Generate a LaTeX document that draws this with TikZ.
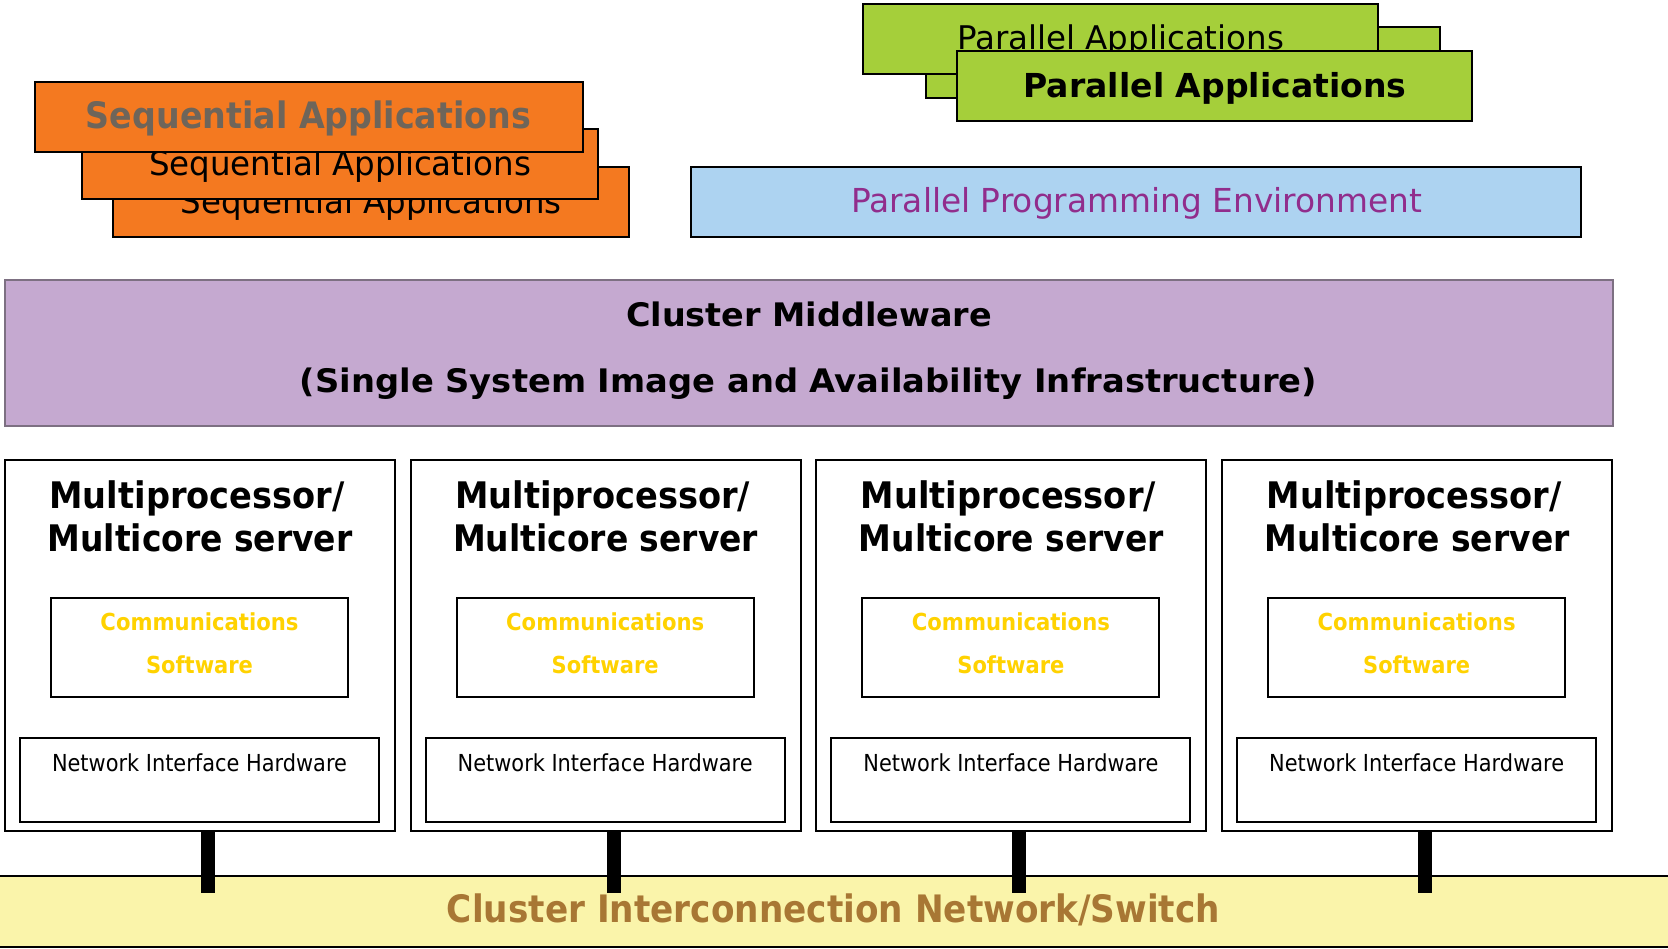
\documentclass[tikz,border=0pt]{standalone}
\usepackage{fontspec}
\setmainfont{DejaVu Sans}
\usetikzlibrary{fit}

\definecolor{seqOrange}{RGB}{244,121,32}
\definecolor{seqGrey}{RGB}{110,101,90}
\definecolor{parGreen}{RGB}{165,207,58}
\definecolor{envBlue}{RGB}{173,211,241}
\definecolor{envPurple}{RGB}{145,45,140}
\definecolor{mwLilac}{RGB}{197,169,208}
\definecolor{mwBorder}{RGB}{125,112,130}
\definecolor{netYellow}{RGB}{250,244,170}
\definecolor{netBrown}{RGB}{168,119,52}
\definecolor{commGold}{RGB}{255,210,0}

% text squeezed horizontally to a given width: #1 width (pt), #2 size (pt), #3 text
\newcommand\fitw[3]{\resizebox{#1pt}{\height}{\fontsize{#2pt}{#2pt}\selectfont #3}}

\tikzset{
  panel/.style={draw=black, line width=1pt, inner sep=0pt, outer sep=0pt},
  label/.style={inner sep=0pt, outer sep=0pt, anchor=base},
  link/.style={draw=black, line width=7pt, line cap=butt},
}

\begin{document}
\begin{tikzpicture}[x=0.5pt, y=-0.5pt]
\useasboundingbox (0,0) rectangle (1668,948);

% ---- stack of sequential applications
\node[panel, fill=seqOrange, fit={(113,167) (629,237)}] (seqC) {};
\node[label] (seqCt) at (371,213) {\fitw{190.5}{16.7}{Sequential Applications}};
\node[panel, fill=seqOrange, fit={(82,129) (598,199)}] (seqB) {};
\node[label] (seqBt) at (340,175) {\fitw{191}{16.7}{Sequential Applications}};
\node[panel, fill=seqOrange, fit={(35,82) (583,152)}] (seqA) {};
\node[label, text=seqGrey] (seqAt) at (308.5,128) {\fitw{222.5}{18.2}{\bfseries Sequential Applications}};

% ---- stack of parallel applications
\node[panel, fill=parGreen, fit={(926,27) (1440,98)}] (parB) {};
\node[panel, fill=parGreen, fit={(863,4) (1378,74)}] (parC) {};
\node[label] (parCt) at (1120.5,49) {\fitw{163.5}{16.3}{Parallel Applications}};
\node[panel, fill=parGreen, fit={(957,51) (1472,121)}] (parA) {};
\node[label] (parAt) at (1215,97) {\fitw{191.5}{16.5}{\bfseries Parallel Applications}};

% ---- programming environment
\node[panel, fill=envBlue, fit={(691,167) (1581,237)}] (env) {};
\node[label, text=envPurple] (envt) at (1136.5,212) {\fitw{285.5}{16.5}{Parallel Programming Environment}};

% ---- middleware
\node[panel, draw=mwBorder, line width=1.2pt, fill=mwLilac, fit={(5,280) (1613,426)}] (mw) {};
\node[label] (mwt1) at (809,326.5) {\fitw{183}{16.2}{\bfseries Cluster Middleware}};
\node[label] (mwt2) at (808.5,392) {\fitw{508.5}{16.2}{\bfseries (Single System Image and Availability Infrastructure)}};

% ---- interconnect
\node[panel, fill=netYellow, fit={(-5,876) (1673,947)}] (net) {};
\node[label, text=netBrown] (nett) at (833.5,922.7) {\fitw{386.5}{18.9}{\bfseries Cluster Interconnection Network/Switch}};

% ---- servers
\foreach \i in {1,...,4} {
  \pgfmathsetmacro\xl{5+405.7*(\i-1)}
  \pgfmathsetmacro\xc{\xl+195}
  \node[panel, fill=white, fit={(\xl,460) (\xl+390,831)}] (srv\i) {};
  \node[label] (srv\i t1) at (\xc-3,508) {\fitw{147.5}{18.3}{\bfseries Multiprocessor/}};
  \node[label] (srv\i t2) at (\xc,551.5) {\fitw{152.5}{18.3}{\bfseries Multicore server}};
  \node[panel, fit={(\xl+46,598) (\xl+343,697)}] (com\i) {};
  \node[label, text=commGold] (com\i t1) at (\xc-0.5,630) {\fitw{99}{11.7}{\bfseries Communications}};
  \node[label, text=commGold] (com\i t2) at (\xc-0.5,673) {\fitw{53.5}{11.7}{\bfseries Software}};
  \node[panel, fit={(\xl+15,738) (\xl+374,822)}] (nic\i) {};
  \node[label] (nic\i t) at (\xc-0.5,771) {\fitw{147.5}{11.7}{Network Interface Hardware}};
  \coordinate (tap\i) at (\xc+8,893);
  \draw[link] (srv\i.south -| tap\i) -- (tap\i);
}
\end{tikzpicture}
\end{document}
